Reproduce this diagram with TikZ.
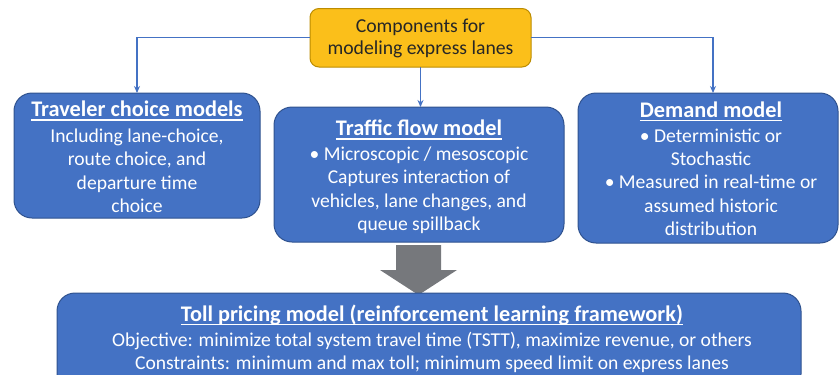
\documentclass[tikz,border=0pt]{standalone}
\usepackage{fontspec}
\setmainfont{Carlito}
\usetikzlibrary{arrows.meta}
\definecolor{boxblue}{HTML}{4472C4}
\definecolor{boxedge}{HTML}{2F528F}
\definecolor{gold}{HTML}{FBBF1A}
\definecolor{goldedge}{HTML}{BC8C00}
\definecolor{arrowgray}{HTML}{76787C}
\tikzset{
  bluebox/.style={draw=boxedge, line width=1pt, fill=boxblue, rounded corners=18pt},
  boxtext/.style={text=white, align=center, inner sep=0pt,
                  font=\fontsize{19.6pt}{23.4pt}\selectfont},
  link/.style={draw=boxblue, line width=1.1pt, -{Stealth[length=7pt,width=6pt]}},
}
% bold, underlined heading at a larger size
\newcommand{\hd}[1]{{\fontsize{22.3pt}{23.4pt}\selectfont\bfseries
  \setbox0\hbox{#1}\rlap{\rule[-3.6pt]{\wd0}{1.6pt}}\box0}}
\begin{document}
\begin{tikzpicture}[x=1pt,y=-1pt]
\useasboundingbox (0,0) rectangle (839,375);
\clip (0,0) rectangle (839,375);

% top (root) box
\path[draw=goldedge, line width=1pt, fill=gold, rounded corners=9pt]
  (310,8.5) rectangle (531,67);
\node[inner sep=0pt, align=center, font=\fontsize{19.7pt}{22pt}\selectfont,
      text=black!85, minimum width=221pt, minimum height=58.5pt]
  (root) at (420.5,37.75) {};
\node[inner sep=0pt, align=center, font=\fontsize{19.7pt}{22pt}\selectfont,
      text=black!85] (roottext) at (420.5,38.6) {Components for\\modeling express lanes};

% three component boxes
\path[bluebox] (14,93) rectangle (260,218);
\coordinate (b1) at (137,93);
\node[boxtext] (t1) at (137,157)
  {\hd{Traveler choice models}\\[2pt]Including lane-choice,\\route choice, and\\departure time\\choice};

\path[bluebox] (274,107) rectangle (564,242);
\coordinate (b2) at (419.5,107);
\node[boxtext] (t2) at (419,177)
  {\hd{Traffic flow model}\\[1pt]• Microscopic / mesoscopic\\Captures interaction of\\vehicles, lane changes, and\\queue spillback};

\path[bluebox] (578,93) rectangle (838,243);
\coordinate (b3) at (713,93);
\node[boxtext] (t3) at (711,169)
  {\hd{Demand model}\\[1pt]• Deterministic or\\Stochastic\\• Measured in real-time or\\assumed historic\\distribution};

% connectors from the root
\coordinate (rl) at (root.west);
\coordinate (rr) at (root.east);
\draw[link] (rl) -| (b1);
\draw[link] (rr) -| (b3);
\draw[link] (root.south) -- (root.south |- b2);

% gray block arrow
\coordinate (tip) at (418.5,295);
\fill[arrowgray] (396,245) -- (441,245) -- (441,270) -- (457,270) -- (tip)
  -- (380,270) -- (396,270) -- cycle;

% bottom box
\path[bluebox] (57,293) rectangle (801,392);
\node[boxtext] (t4) at (432,339)
  {\hd{Toll pricing model (reinforcement learning framework)}\\[1pt]Objective: minimize total system travel time (TSTT), maximize revenue, or others\\Constraints: minimum and max toll; minimum speed limit on express lanes};
\end{tikzpicture}
\end{document}
